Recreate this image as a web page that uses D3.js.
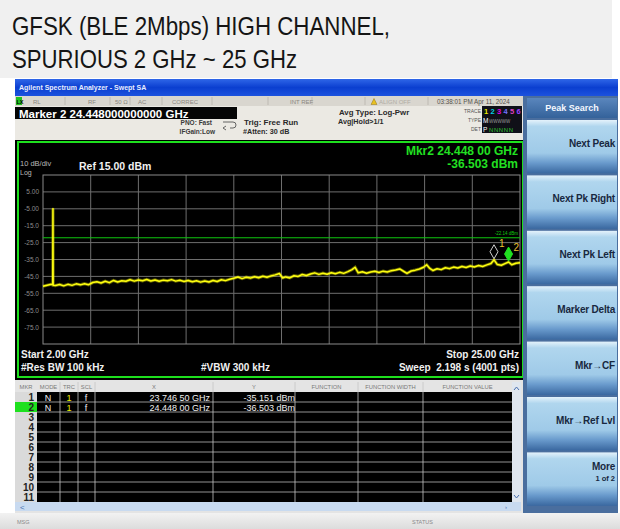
<!DOCTYPE html>
<html>
<head>
<meta charset="utf-8">
<script src="https://cdn.jsdelivr.net/npm/d3@7"></script>
<style>
  html, body { margin: 0; padding: 0; background: #ffffff; }
  svg { display: block; font-family: "Liberation Sans", Arial, sans-serif; }
</style>
</head>
<body>
<div id="chart"></div>
<script>
// spectrum trace, [GHz, dBm]
const traceData = [
  [2.00,-50.8],[2.20,-50.2],[2.40,-49.6],[2.47,-49.9],[2.48,-4.8],[2.49,-50.3],[2.60,-50.4],[2.80,-49.8],
  [3.00,-50.6],[3.20,-49.7],[3.40,-50.3],[3.60,-49.4],[3.80,-50.0],[4.00,-49.3],[4.20,-49.9],[4.40,-48.6],
  [4.60,-48.2],[4.80,-48.9],[5.00,-47.9],[5.20,-48.7],[5.40,-47.4],[5.60,-48.3],[5.80,-47.6],[6.00,-47.9],
  [6.20,-47.0],[6.40,-47.8],[6.60,-47.1],[6.80,-47.6],[7.00,-46.8],[7.20,-47.7],[7.40,-47.1],[7.60,-47.9],
  [7.80,-47.2],[8.00,-47.6],[8.20,-46.9],[8.40,-47.8],[8.60,-47.3],[8.80,-48.0],[9.00,-47.4],[9.20,-48.2],
  [9.40,-47.6],[9.60,-48.4],[9.80,-47.7],[10.00,-48.3],[10.20,-47.4],[10.40,-48.0],[10.60,-47.0],[10.80,-47.5],
  [11.00,-46.7],[11.20,-46.1],[11.40,-45.4],[11.60,-46.3],[11.80,-45.5],[12.00,-46.0],[12.20,-45.2],[12.40,-45.8],
  [12.60,-44.9],[12.80,-45.5],[13.00,-44.7],[13.20,-44.1],[13.40,-43.3],[13.55,-45.9],[13.70,-45.3],[13.90,-45.9],
  [14.10,-44.6],[14.30,-45.0],[14.50,-43.9],[14.70,-44.5],[14.90,-43.6],[15.10,-42.9],[15.30,-43.8],[15.50,-43.1],
  [15.70,-43.7],[15.90,-42.8],[16.10,-43.4],[16.30,-42.6],[16.50,-43.2],[16.70,-42.2],[16.90,-41.0],[17.05,-39.6],
  [17.20,-42.9],[17.40,-42.3],[17.60,-43.1],[17.80,-42.4],[18.00,-42.0],[18.20,-42.7],[18.40,-41.9],[18.60,-42.4],
  [18.80,-41.6],[19.00,-41.2],[19.20,-40.6],[19.40,-42.1],[19.55,-43.2],[19.75,-41.8],[19.95,-41.3],[20.15,-40.6],
  [20.35,-39.6],[20.50,-38.1],[20.65,-40.3],[20.80,-41.5],[21.00,-40.5],[21.20,-41.0],[21.40,-39.9],[21.60,-40.4],
  [21.80,-39.5],[22.00,-40.0],[22.20,-39.1],[22.40,-39.7],[22.60,-38.8],[22.80,-39.4],[23.00,-38.6],[23.20,-39.1],
  [23.40,-38.2],[23.60,-37.4],[23.75,-35.2],[23.90,-37.9],[24.10,-38.4],[24.30,-37.3],[24.45,-36.5],[24.60,-38.1],
  [24.80,-37.2],[25.00,-36.9]
];

// axis / grid
const yTickValues = [5, -5, -15, -25, -35, -45, -55, -65, -75];
const yTickLabels = ["5.00", "-5.00", "-15.0", "-25.0", "-35.0", "-45.0", "-55.0", "-65.0", "-75.0"];
const xGridValues = [4.3, 6.6, 8.9, 11.2, 13.5, 15.8, 18.1, 20.4, 22.7];
const thresholdDbm = -22.14;

// markers and marker table
const markerIds = [1, 2];
const markerFreqs = [23.7465, 24.448];
const markerLevels = [-35.151, -36.503];
const markerXText = ["23.746 50 GHz", "24.448 00 GHz"];
const markerYText = ["-35.151 dBm", "-36.503 dBm"];
const tableHeaders = ["MKR", "MODE", "TRC", "SCL", "X", "Y", "FUNCTION", "FUNCTION WIDTH", "FUNCTION VALUE"];
const tableRowCount = 11;

// softkeys
const softkeys = ["Next Peak", "Next Pk Right", "Next Pk Left", "Marker Delta", "Mkr\u2192CF", "Mkr\u2192Ref Lvl", "More"];

const W = 620, H = 529;
const svg = d3.select("#chart").append("svg")
  .attr("width", W).attr("height", H)
  .attr("viewBox", `0 0 ${W} ${H}`);

const defs = svg.append("defs");
const grad = (id, stops) => {
  const g = defs.append("linearGradient").attr("id", id)
    .attr("x1", 0).attr("y1", 0).attr("x2", 0).attr("y2", 1);
  stops.forEach(s => g.append("stop").attr("offset", s[0]).attr("stop-color", s[1]));
};
grad("titleGrad", [[0, "#2f66e8"], [0.5, "#0b3fd0"], [1, "#1c52de"]]);
grad("keyGrad", [[0, "#e4f2fb"], [0.12, "#b0d6ee"], [0.62, "#9fcae8"], [0.8, "#6a9bcd"], [1, "#3a68a0"]]);
grad("headGrad", [[0, "#5a86bd"], [1, "#34629a"]]);
grad("barGrad", [[0, "#f2f2f2"], [1, "#dcdcdc"]]);

// ---- caption above the screenshot
svg.append("rect").attr("x", 0).attr("y", 0).attr("width", 612).attr("height", 78).attr("fill", "#f0f0f0");
svg.append("text").attr("x", 12).attr("y", 35).attr("font-size", 25).attr("fill", "#151515")
  .attr("textLength", 378).attr("lengthAdjust", "spacingAndGlyphs")
  .text("GFSK (BLE 2Mbps) HIGH CHANNEL,");
svg.append("text").attr("x", 12).attr("y", 68).attr("font-size", 25).attr("fill", "#151515")
  .attr("textLength", 285).attr("lengthAdjust", "spacingAndGlyphs")
  .text("SPURIOUS 2 GHz ~ 25 GHz");

// ---- analyzer window frame
svg.append("rect").attr("x", 15).attr("y", 79).attr("width", 603).attr("height", 450).attr("fill", "#e6e4de");
svg.append("rect").attr("x", 15).attr("y", 79).attr("width", 603).attr("height", 17).attr("fill", "url(#titleGrad)");
svg.append("text").attr("x", 19).attr("y", 90).attr("font-size", 7).attr("font-weight", "bold")
  .attr("fill", "#e8eeff").text("Agilent Spectrum Analyzer - Swept SA");

// status row
svg.append("rect").attr("x", 15).attr("y", 96).attr("width", 508).attr("height", 10).attr("fill", "#d9d6cf");
svg.append("rect").attr("x", 16).attr("y", 97).attr("width", 6).attr("height", 8).attr("fill", "#20c020");
svg.append("text").attr("x", 16.5).attr("y", 103.5).attr("font-size", 5.5).attr("font-weight", "bold").text("LX");
const statusDiv = [65, 110, 130, 162, 212, 268, 312, 365, 428];
svg.selectAll(".sdiv").data(statusDiv).join("line").attr("class", "sdiv")
  .attr("x1", d => d).attr("x2", d => d).attr("y1", 97).attr("y2", 105)
  .attr("stroke", "#b8b4ac").attr("stroke-width", 0.8);
const statusItems = [["RL", 33], ["RF", 88], ["50 \u03a9", 115], ["AC", 138], ["CORREC", 172], ["INT REF", 290]];
svg.selectAll(".stxt").data(statusItems).join("text").attr("class", "stxt")
  .attr("x", d => d[1]).attr("y", 103.5).attr("font-size", 6).attr("fill", "#8a8680").text(d => d[0]);
svg.append("path").attr("d", "M371,104.5 L374,98.5 L377,104.5 Z").attr("fill", "#e8c020").attr("stroke", "#806000").attr("stroke-width", 0.4);
svg.append("text").attr("x", 379).attr("y", 103.5).attr("font-size", 6).attr("fill", "#b0aca4").text("ALIGN OFF");
svg.append("text").attr("x", 437).attr("y", 103.5).attr("font-size", 6.3).attr("fill", "#55524c").text("03:38:01 PM Apr 11, 2024");

// settings panel
svg.append("rect").attr("x", 15).attr("y", 106).attr("width", 508).attr("height", 34).attr("fill", "#ebe9e3");
svg.append("rect").attr("x", 15).attr("y", 107).attr("width", 222).attr("height", 12).attr("fill", "#050505");
svg.append("text").attr("x", 19).attr("y", 117.5).attr("font-size", 11.5).attr("font-weight", "bold")
  .attr("fill", "#ffffff").text("Marker 2 24.448000000000 GHz");
const settingsLeft = [["PNO: Fast", 212, 125], ["IFGain:Low", 215, 134]];
svg.selectAll(".setl").data(settingsLeft).join("text").attr("class", "setl")
  .attr("x", d => d[1]).attr("y", d => d[2]).attr("text-anchor", "end")
  .attr("font-size", 6.5).attr("font-weight", "bold").attr("fill", "#3a3a3a").text(d => d[0]);
svg.append("path").attr("d", "M223,122 h10 a3,3 0 0 1 0,6 h-3 M226,126 l-3,2 l3,2")
  .attr("fill", "none").attr("stroke", "#555").attr("stroke-width", 0.9);
const settingsMid = [["Trig: Free Run", 244, 124.5, 8], ["#Atten: 30 dB", 243, 134, 7.2],
  ["Avg Type: Log-Pwr", 339, 114.5, 7.8], ["Avg|Hold>1/1", 338, 124, 7.2]];
svg.selectAll(".setm").data(settingsMid).join("text").attr("class", "setm")
  .attr("x", d => d[1]).attr("y", d => d[2]).attr("font-size", d => d[3])
  .attr("font-weight", "bold").attr("fill", "#2a2a2a").text(d => d[0]);
// trace / type / det block
const tLabels = [["TRACE", 113], ["TYPE", 122], ["DET", 131]];
svg.selectAll(".tlab").data(tLabels).join("text").attr("class", "tlab")
  .attr("x", 481).attr("y", d => d[1]).attr("text-anchor", "end")
  .attr("font-size", 5).attr("fill", "#555").text(d => d[0]);
svg.append("rect").attr("x", 482).attr("y", 106).attr("width", 40).attr("height", 27).attr("fill", "#101018");
const traceColors = ["#e8e800", "#00d0e0", "#e000e0", "#7070ff", "#e040c0", "#a040ff"];
svg.selectAll(".tnum").data(traceColors).join("text").attr("class", "tnum")
  .attr("x", (d, i) => 484 + i * 6.5).attr("y", 114).attr("font-size", 7.5).attr("font-weight", "bold")
  .attr("fill", d => d).text((d, i) => i + 1);
svg.append("text").attr("x", 483).attr("y", 123).attr("font-size", 6.5).attr("fill", "#fff").text("M");
svg.append("text").attr("x", 489).attr("y", 122.5).attr("font-size", 4.5).attr("fill", "#9a9a9a").text("WWWWW");
svg.append("text").attr("x", 483).attr("y", 131.5).attr("font-size", 6.5).attr("fill", "#fff").text("P");
svg.append("text").attr("x", 489).attr("y", 131.5).attr("font-size", 6).attr("fill", "#30c030")
  .attr("letter-spacing", 0.6).text("NNNNN");

// ---- graticule display
svg.append("rect").attr("x", 15).attr("y", 140).attr("width", 510).attr("height", 240).attr("fill", "#000");
svg.append("rect").attr("x", 18).attr("y", 142).attr("width", 505).attr("height", 235)
  .attr("fill", "none").attr("stroke", "#1ee01e").attr("stroke-width", 2);

const x = d3.scaleLinear().domain([2, 25]).range([43, 520]);
const y = d3.scaleLinear().domain([-85, 15]).range([344, 175]);

const g = svg.append("g");
g.selectAll(".hgrid").data(yTickValues).join("line").attr("class", "hgrid")
  .attr("x1", x(2)).attr("x2", x(25)).attr("y1", d => y(d)).attr("y2", d => y(d))
  .attr("stroke", "#6e6e6e").attr("stroke-width", 1);
g.selectAll(".vgrid").data(xGridValues).join("line").attr("class", "vgrid")
  .attr("x1", d => x(d)).attr("x2", d => x(d)).attr("y1", y(15)).attr("y2", y(-85))
  .attr("stroke", "#6e6e6e").attr("stroke-width", 1);
g.append("rect").attr("x", x(2)).attr("y", y(15)).attr("width", x(25) - x(2)).attr("height", y(-85) - y(15))
  .attr("fill", "none").attr("stroke", "#8a8a8a").attr("stroke-width", 1);

g.selectAll(".ylab").data(yTickValues).join("text").attr("class", "ylab")
  .attr("x", 39).attr("y", d => y(d) + 2.5).attr("text-anchor", "end")
  .attr("font-size", 6.5).attr("fill", "#8c8c8c").text((d, i) => yTickLabels[i]);

g.append("text").attr("x", 20).attr("y", 166).attr("font-size", 7.5).attr("fill", "#b8b8b8").text("10 dB/div");
g.append("text").attr("x", 20).attr("y", 175).attr("font-size", 7).attr("fill", "#b8b8b8").text("Log");
g.append("text").attr("x", 79).attr("y", 170).attr("font-size", 10.5).attr("font-weight", "bold")
  .attr("fill", "#f0f0f0").text("Ref 15.00 dBm");
g.append("text").attr("x", 518).attr("y", 155).attr("text-anchor", "end").attr("font-size", 12)
  .attr("font-weight", "bold").attr("fill", "#22e022").text("Mkr2 24.448 00 GHz");
g.append("text").attr("x", 518).attr("y", 168).attr("text-anchor", "end").attr("font-size", 12)
  .attr("font-weight", "bold").attr("fill", "#22e022").text("-36.503 dBm");

// threshold line
g.append("line").attr("x1", x(2)).attr("x2", x(25)).attr("y1", y(thresholdDbm)).attr("y2", y(thresholdDbm))
  .attr("stroke", "#10c810").attr("stroke-width", 1);
g.append("text").attr("x", 518).attr("y", y(thresholdDbm) - 3).attr("text-anchor", "end")
  .attr("font-size", 4.5).attr("fill", "#10c810").text(thresholdDbm.toFixed(2) + " dBm");

// trace
const line = d3.line().x(d => x(d[0])).y(d => y(d[1]));
g.append("path").datum(traceData).attr("d", line).attr("fill", "none")
  .attr("stroke", "#d8d800").attr("stroke-width", 3.2).attr("stroke-opacity", 0.45);
g.append("path").datum(traceData).attr("d", line).attr("fill", "none")
  .attr("stroke", "#ffff10").attr("stroke-width", 1.5).attr("stroke-linejoin", "round");

// markers
const mk = g.selectAll(".mk").data(markerIds).join("g").attr("class", "mk")
  .attr("transform", (d, i) => `translate(${x(markerFreqs[i])},${y(markerLevels[i]) - 8})`);
mk.append("path").attr("d", "M0,-7 L4,0 L0,7 L-4,0 Z")
  .attr("fill", d => d === 2 ? "#20e020" : "none")
  .attr("stroke", d => d === 2 ? "#20e020" : "#d0d0d0").attr("stroke-width", 1);
mk.append("text").attr("x", 5).attr("y", (d, i) => i === 0 ? -5 : -3).attr("font-size", 10)
  .attr("fill", "#e8c030").text(d => d);

// footer annotations in display
const footL = [["Start 2.00 GHz", 21, 358], ["#Res BW 100 kHz", 21, 371], ["#VBW 300 kHz", 201, 371]];
g.selectAll(".footl").data(footL).join("text").attr("class", "footl")
  .attr("x", d => d[1]).attr("y", d => d[2]).attr("font-size", 10).attr("font-weight", "bold")
  .attr("fill", "#f0f0f0").text(d => d[0]);
const footR = [["Stop 25.00 GHz", 519, 358], ["Sweep  2.198 s (4001 pts)", 519, 371]];
g.selectAll(".footr").data(footR).join("text").attr("class", "footr")
  .attr("x", d => d[1]).attr("y", d => d[2]).attr("text-anchor", "end").attr("font-size", 10)
  .attr("font-weight", "bold").attr("fill", "#f0f0f0").attr("xml:space", "preserve").text(d => d[0]);

// ---- marker table
const colEdges = [15, 37, 60, 78, 95, 213, 295, 358, 423, 512];
const rowTop = 392, rowH = 10;
svg.append("rect").attr("x", 15).attr("y", 380).attr("width", 508).attr("height", 133).attr("fill", "#e4e4e4");
svg.selectAll(".thead").data(tableHeaders).join("text").attr("class", "thead")
  .attr("x", (d, i) => (colEdges[i] + colEdges[i + 1]) / 2).attr("y", 389)
  .attr("text-anchor", "middle").attr("font-size", 5.8).attr("fill", "#7a7a7a").text(d => d);
svg.append("rect").attr("x", 15).attr("y", rowTop).attr("width", 22).attr("height", rowH * tableRowCount).attr("fill", "#dadada");
svg.append("rect").attr("x", 37).attr("y", rowTop).attr("width", 475).attr("height", rowH * tableRowCount).attr("fill", "#000");
svg.append("rect").attr("x", 15).attr("y", rowTop + rowH).attr("width", 22).attr("height", rowH).attr("fill", "#1ee01e");
const rows = d3.range(tableRowCount);
svg.selectAll(".hrow").data(rows.slice(1)).join("line").attr("class", "hrow")
  .attr("x1", 37).attr("x2", 512).attr("y1", d => rowTop + d * rowH).attr("y2", d => rowTop + d * rowH)
  .attr("stroke", "#b8b8b8").attr("stroke-width", 0.8);
svg.selectAll(".vcol").data(colEdges.slice(2, 9)).join("line").attr("class", "vcol")
  .attr("x1", d => d).attr("x2", d => d).attr("y1", 382).attr("y2", rowTop + rowH * tableRowCount)
  .attr("stroke", "#c4c4c4").attr("stroke-width", 0.8);
svg.selectAll(".rnum").data(rows).join("text").attr("class", "rnum")
  .attr("x", 34).attr("y", d => rowTop + d * rowH + 8.5).attr("text-anchor", "end")
  .attr("font-size", 10).attr("font-weight", "bold").attr("fill", "#222").text(d => d + 1);
const mrow = svg.selectAll(".mrow").data(markerIds).join("g").attr("class", "mrow")
  .attr("transform", (d, i) => `translate(0,${rowTop + i * rowH + 8.5})`);
mrow.append("text").attr("x", 48).attr("text-anchor", "middle").attr("font-size", 9).attr("fill", "#eee").text("N");
mrow.append("text").attr("x", 69).attr("text-anchor", "middle").attr("font-size", 9).attr("fill", "#f0f000").text("1");
mrow.append("text").attr("x", 86).attr("text-anchor", "middle").attr("font-size", 9).attr("fill", "#eee").text("f");
mrow.append("text").attr("x", 210).attr("text-anchor", "end").attr("font-size", 9).attr("fill", "#eee").text((d, i) => markerXText[i]);
mrow.append("text").attr("x", 295).attr("text-anchor", "end").attr("font-size", 9).attr("fill", "#eee").text((d, i) => markerYText[i]);
// scroll bars
svg.append("rect").attr("x", 512).attr("y", 382).attr("width", 9).attr("height", 120).attr("fill", "#dfe6ef");
svg.append("path").attr("d", "M514,390 l2.5,-3 l2.5,3").attr("fill", "none").attr("stroke", "#4a70b0").attr("stroke-width", 1);
svg.append("path").attr("d", "M514,495 l2.5,3 l2.5,-3").attr("fill", "none").attr("stroke", "#4a70b0").attr("stroke-width", 1);
svg.append("rect").attr("x", 15).attr("y", 502).attr("width", 506).attr("height", 9).attr("fill", "#c8daf0");
svg.append("text").attr("x", 20).attr("y", 509.5).attr("font-size", 8).attr("fill", "#4a70b0").text("<");
svg.append("text").attr("x", 505).attr("y", 509).attr("font-size", 6).attr("fill", "#4a70b0").text("\u203a");

// bottom status bar
svg.append("rect").attr("x", 0).attr("y", 513).attr("width", 620).attr("height", 16).attr("fill", "url(#barGrad)");
svg.append("text").attr("x", 17).attr("y", 524).attr("font-size", 5.5).attr("fill", "#8a8a8a").text("MSG");
svg.append("text").attr("x", 412).attr("y", 524).attr("font-size", 5.5).attr("fill", "#8a8a8a").text("STATUS");

// ---- softkey panel
svg.append("rect").attr("x", 523).attr("y", 96).attr("width", 95).attr("height", 417).attr("fill", "#4a6e9e");
svg.append("rect").attr("x", 527).attr("y", 98).attr("width", 90).attr("height", 20).attr("fill", "url(#headGrad)");
svg.append("text").attr("x", 572).attr("y", 111).attr("text-anchor", "middle").attr("font-size", 9)
  .attr("font-weight", "bold").attr("fill", "#f4f8ff").text("Peak Search");
const keyTop = 120, keyStep = 55.4;
const key = svg.selectAll(".key").data(softkeys).join("g").attr("class", "key")
  .attr("transform", (d, i) => `translate(527,${keyTop + i * keyStep})`);
key.append("rect").attr("width", 90).attr("height", keyStep - 2).attr("fill", "url(#keyGrad)");
key.append("text").attr("x", 88).attr("y", (d, i) => i === 6 ? 18 : 27).attr("text-anchor", "end")
  .attr("font-size", 10).attr("font-weight", "bold").attr("fill", "#182840")
  .attr("letter-spacing", -0.2).text(d => d);
key.filter((d, i) => i === 6).append("text").attr("x", 88).attr("y", 29).attr("text-anchor", "end")
  .attr("font-size", 7.5).attr("font-weight", "bold").attr("fill", "#182840").text("1 of 2");
</script>
</body>
</html>
